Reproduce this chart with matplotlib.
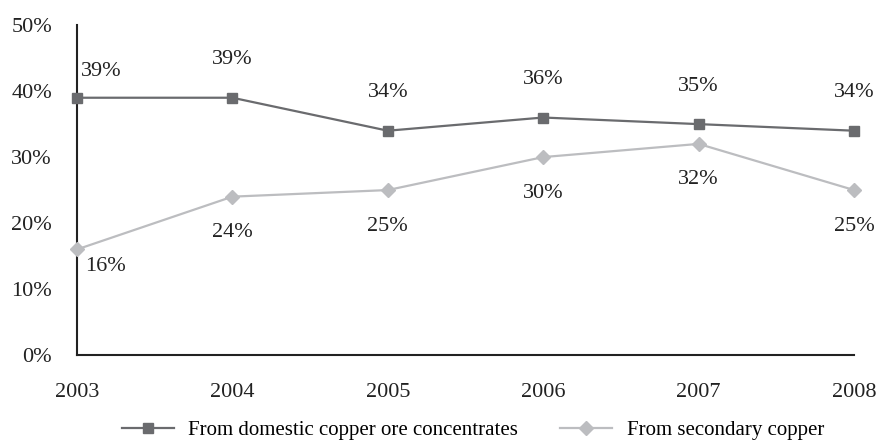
import matplotlib
matplotlib.use("Agg")
import matplotlib.pyplot as plt

plt.rcParams['font.family'] = ['Liberation Serif', 'DejaVu Serif']

years = ["2003", "2004", "2005", "2006", "2007", "2008"]
domestic = [39, 39, 34, 36, 35, 34]
secondary = [16, 24, 25, 30, 32, 25]
yticks = [0, 10, 20, 30, 40, 50]

dark = "#6a6b6e"
light = "#bcbdc0"
fs = 16

fig = plt.figure(figsize=(8.82, 4.42), dpi=100)
ax = fig.add_axes([0.0873, 0.197, 0.881, 0.746])

x = list(range(len(years)))
ax.plot(x, domestic, color=dark, lw=1.6, marker="s", markersize=7.5,
        label="From domestic copper ore concentrates", clip_on=False, zorder=3)
ax.plot(x, secondary, color=light, lw=1.6, marker="D", markersize=7.5,
        label="From secondary copper", clip_on=False, zorder=3)

for i, v in enumerate(domestic):
    off = (24, 26) if i == 0 else (0, 38)
    ax.annotate(f"{v}%", (i, v), textcoords="offset pixels", xytext=off,
                ha="center", va="center", fontsize=fs, color="#222222")
for i, v in enumerate(secondary):
    off = (28, -17) if i == 0 else (0, -36)
    ax.annotate(f"{v}%", (i, v), textcoords="offset pixels", xytext=off,
                ha="center", va="center", fontsize=fs, color="#222222")

ax.set_xlim(0, len(years) - 1)
ax.set_ylim(0, 50)
ax.set_xticks(x)
ax.set_xticklabels(years)
ax.set_yticks(yticks)
ax.set_yticklabels([f"{t}%" for t in yticks])
ax.tick_params(axis="both", length=0, labelsize=fs, colors="#222222")
ax.tick_params(axis="y", pad=18)
ax.tick_params(axis="x", pad=20)
for s in ("top", "right"):
    ax.spines[s].set_visible(False)
for s in ("left", "bottom"):
    ax.spines[s].set_color("#222222")
    ax.spines[s].set_linewidth(1.5)

fig.legend(loc="center", bbox_to_anchor=(0.536, 0.027), ncol=2, frameon=False,
           fontsize=15, handlelength=2.5, handletextpad=0.7, columnspacing=2.0)

fig.savefig("out.png", dpi=100)
